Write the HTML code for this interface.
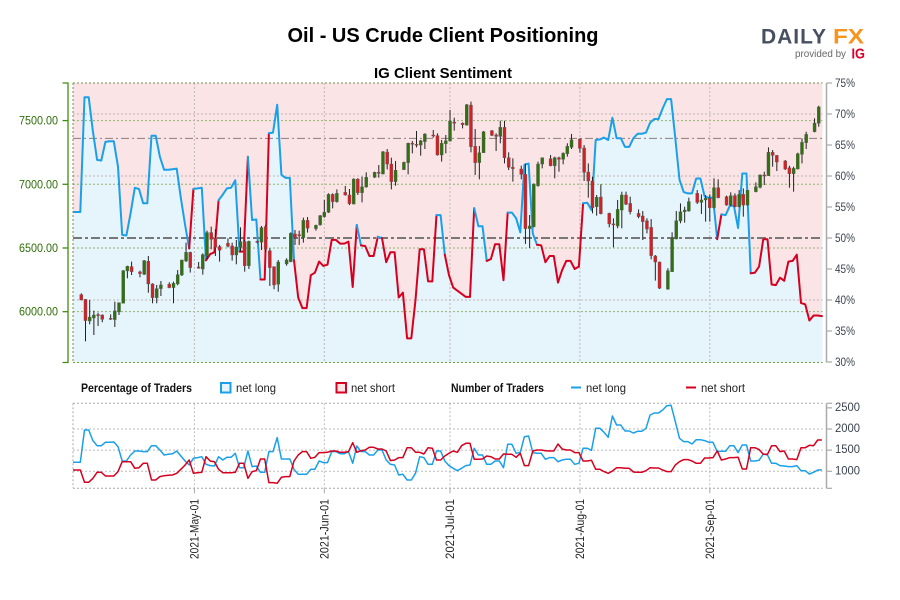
<!DOCTYPE html>
<html lang="en">
<head>
<meta charset="utf-8">
<title>Oil - US Crude Client Positioning</title>
<style>
html,body{margin:0;padding:0;background:#fff;width:900px;height:600px;overflow:hidden}
svg{display:block}
text{font-family:"Liberation Sans",sans-serif}
</style>
</head>
<body>
<svg id="chart" xmlns="http://www.w3.org/2000/svg" width="900" height="600" viewBox="0 0 900 600">
<text x="443" y="42" text-anchor="middle" font-size="20" font-weight="700" fill="#000" textLength="311" lengthAdjust="spacingAndGlyphs">Oil - US Crude Client Positioning</text>
<text x="443" y="78" text-anchor="middle" font-size="15" font-weight="700" fill="#000" textLength="138" lengthAdjust="spacingAndGlyphs">IG Client Sentiment</text>
<g>
<text x="761" y="43.5" font-size="21" font-weight="700" fill="#465060" textLength="65" lengthAdjust="spacing">DAILY</text>
<text x="833" y="43.5" font-size="21" font-weight="700" fill="#f7941d" textLength="31" lengthAdjust="spacingAndGlyphs">FX</text>
<text x="795" y="57" font-size="10.5" fill="#666" textLength="51" lengthAdjust="spacingAndGlyphs">provided by</text>
<text x="851.5" y="58.5" font-size="15" font-weight="700" fill="#d8002a" textLength="13.5" lengthAdjust="spacingAndGlyphs">IG</text>
</g>
<g id="main-panel"></g>
<g>
<text x="81" y="392" font-size="12" font-weight="700" fill="#111" textLength="111" lengthAdjust="spacingAndGlyphs">Percentage of Traders</text>
<rect x="221" y="383" width="9.5" height="9.5" fill="#e6f4fc" stroke="#1aa0e8" stroke-width="2"/>
<text x="236" y="392" font-size="12" fill="#222" textLength="40" lengthAdjust="spacingAndGlyphs">net long</text>
<rect x="336.5" y="383" width="9.5" height="9.5" fill="#fbe4e5" stroke="#d5001f" stroke-width="2"/>
<text x="351" y="392" font-size="12" fill="#222" textLength="44" lengthAdjust="spacingAndGlyphs">net short</text>
<text x="451" y="392" font-size="12" font-weight="700" fill="#111" textLength="93" lengthAdjust="spacingAndGlyphs">Number of Traders</text>
<line x1="571" y1="387.5" x2="581" y2="387.5" stroke="#1aa0e8" stroke-width="2"/>
<text x="586" y="392" font-size="12" fill="#222" textLength="40" lengthAdjust="spacingAndGlyphs">net long</text>
<line x1="686" y1="387.5" x2="696" y2="387.5" stroke="#d5001f" stroke-width="2"/>
<text x="701" y="392" font-size="12" fill="#222" textLength="44" lengthAdjust="spacingAndGlyphs">net short</text>
</g>
<g id="lower-panel"></g>
</svg>
<script>
const priceTicks = [7500, 7000, 6500, 6000];
const percentTicks = [75, 70, 65, 60, 55, 50, 45, 40, 35, 30];
const percentGrid = [70, 60, 40];
const countTicks = [2500, 2000, 1500, 1000];
const countGrid = [2000, 1500, 1000];
const dateTicks = ["2021-05-01", "2021-06-01", "2021-07-01", "2021-08-01", "2021-09-01"];
const dateLabels = ["2021-May-01", "2021-Jun-01", "2021-Jul-01", "2021-Aug-01", "2021-Sep-01"];
const firstCandleDate = "2021-04-04";
const currentPriceLevel = 7360;

const opens = [6134,6097,5927,5951,5977,5974,5948,5938,5998,6066,6320,6354,6312,6293,6396,6218,6110,6181,6215,6189,6218,6288,6398,6466,6351,6335,6440,6621,6576,6511,6537,6516,6445,6505,6550,6361,6552,6545,6668,6479,6354,6215,6375,6393,6610,6605,6581,6717,6652,6681,6746,6780,6921,6864,6937,6916,6845,7041,6934,6979,7055,7094,7081,7253,7159,7021,7115,7170,7322,7314,7308,7335,7387,7382,7230,7319,7340,7489,7479,7465,7622,7298,7170,7248,7421,7387,7376,7447,7209,7133,7120,7078,6652,6668,6989,7159,7201,7146,7209,7196,7240,7290,7356,7285,7096,7026,6824,6900,6772,6689,6673,6798,6916,6850,6772,6751,6714,6662,6437,6390,6176,6314,6571,6712,6785,6790,6929,6858,6877,6890,6816,6973,6903,6837,6911,6824,6921,6837,6942,6976,7073,7068,7251,7227,7183,7130,7083,7120,7235,7327,7413,7479];
const highs = [6144,6097,6092,6008,5992,5979,5979,6079,6071,6327,6361,6393,6322,6406,6437,6223,6210,6241,6231,6236,6327,6406,6542,6471,6390,6458,6636,6668,6647,6524,6576,6542,6563,6662,6563,6558,6558,6673,6681,6498,6354,6406,6419,6623,6641,6636,6738,6743,6683,6759,6877,6929,6929,6960,6987,6963,7047,7047,7060,7094,7099,7151,7261,7277,7209,7183,7178,7327,7340,7418,7348,7400,7426,7400,7348,7387,7583,7523,7486,7630,7649,7434,7301,7418,7426,7400,7499,7499,7251,7204,7146,7164,6759,7007,7178,7209,7230,7217,7217,7251,7322,7395,7361,7308,7164,7060,6916,7000,6777,6733,6877,6942,6942,6903,6803,6790,6733,6727,6445,6393,6341,6623,6790,6850,6824,6895,6955,6921,6916,6921,7047,7039,6911,6937,6929,6955,6968,6955,7015,7078,7099,7290,7269,7230,7191,7146,7138,7248,7361,7413,7518,7617];
const lows = [6089,5767,5901,5817,5888,5917,5935,5880,5974,6066,6262,6288,6270,6288,6149,6066,6066,6123,6184,6066,6207,6280,6390,6307,6338,6291,6411,6490,6437,6393,6505,6401,6372,6471,6314,6335,6537,6484,6470,6202,6176,6157,6361,6388,6524,6524,6542,6621,6636,6676,6738,6775,6811,6856,6911,6837,6843,6916,6858,6973,7049,7052,7078,7117,6960,6989,7112,7078,7243,7290,7225,7277,7366,7225,7178,7243,7335,7421,7439,7460,7251,7073,7039,7246,7379,7261,7322,7164,7112,7021,7039,6532,6500,6662,6981,7125,7141,7047,7099,7157,7217,7277,7248,7026,6895,6772,6754,6764,6662,6505,6655,6655,6837,6764,6733,6563,6615,6411,6244,6178,6173,6312,6568,6694,6699,6785,6845,6767,6707,6707,6811,6890,6832,6829,6819,6819,6746,6832,6937,6968,6994,7065,7138,7104,7112,6973,6942,7117,7164,7277,7408,7452];
const closes = [6092,5930,5958,5974,5969,5940,5940,6006,6071,6322,6356,6314,6299,6401,6218,6110,6181,6210,6189,6223,6291,6406,6466,6346,6341,6448,6621,6568,6505,6482,6513,6445,6508,6550,6361,6552,6547,6660,6492,6346,6210,6390,6406,6615,6579,6597,6717,6655,6678,6754,6780,6921,6864,6929,6916,6848,7041,6934,6981,7055,7094,7086,7256,7159,7021,7110,7172,7322,7319,7308,7342,7395,7379,7230,7322,7342,7497,7479,7468,7625,7295,7170,7248,7413,7384,7376,7447,7209,7133,7123,7078,6652,6673,7002,7159,7209,7146,7209,7196,7243,7298,7350,7282,7094,7026,6816,6898,6769,6689,6681,6803,6916,6843,6785,6746,6707,6649,6440,6390,6184,6322,6576,6714,6785,6798,6864,6858,6877,6890,6816,6973,6895,6837,6911,6824,6921,6837,6953,6981,7073,7068,7251,7227,7175,7120,7083,7125,7240,7329,7392,7481,7607];

const percentLong = [54.2,54.2,54.2,72.7,72.7,67.2,62.6,62.5,65.5,65.6,65.6,61.5,50.5,50.4,54.0,58.1,57.9,55.6,55.6,66.5,66.5,63.1,61.0,61.0,61.1,61.2,56.4,52.1,48.3,57.9,58.0,58.1,46.4,47.4,47.7,56.1,57.0,58.0,58.1,59.3,47.8,47.8,63.1,52.9,53.0,43.3,43.3,66.9,67.0,71.5,60.2,59.7,59.7,46.4,40.4,38.7,38.7,44.0,44.4,46.2,45.5,45.7,49.7,49.7,49.1,49.1,49.4,42.1,52.1,48.8,48.7,47.1,47.1,50.2,50.0,46.1,47.7,47.7,40.4,41.2,33.8,33.8,40.0,48.2,48.2,43.0,43.0,53.7,53.7,47.3,44.0,42.0,41.5,41.0,40.5,40.5,54.8,51.9,51.9,46.3,46.6,49.0,49.0,43.2,54.1,54.1,53.2,50.9,61.8,62.0,50.7,48.9,48.8,46.1,47.1,47.1,42.8,44.8,46.3,46.3,45.0,45.4,55.6,55.7,54.5,65.8,65.9,66.2,65.8,69.4,66.1,66.1,64.7,64.7,66.1,66.8,66.8,67.0,68.6,69.2,69.2,70.9,72.4,72.4,66.1,59.4,57.4,57.2,57.2,59.6,59.6,56.7,56.5,56.5,49.8,53.8,53.7,55.2,55.2,51.6,60.4,60.4,44.3,44.4,45.4,49.8,49.8,42.5,42.4,43.6,43.1,46.2,46.3,47.3,39.5,39.3,36.7,37.5,37.5,37.4];

const netLongCount = [1212,1212,1212,1977,1977,1725,1606,1606,1685,1685,1693,1583,1244,1244,1386,1480,1480,1465,1465,1606,1606,1504,1386,1402,1417,1480,1362,1244,1149,1307,1323,1346,1165,1134,1126,1346,1268,1331,1331,1425,1086,1086,1480,1110,1126,976,976,1465,1465,1796,1291,1291,1291,1047,929,929,929,1047,1047,1244,1205,1205,1465,1465,1417,1417,1465,1189,1599,1465,1465,1386,1386,1504,1504,1268,1165,1149,913,929,795,795,952,1346,1323,1165,1165,1480,1480,1244,1134,1071,1015,1071,1134,1149,1543,1386,1386,1165,1165,1244,1244,1086,1638,1638,1425,1449,1819,1835,1441,1425,1425,1283,1323,1323,1228,1268,1283,1283,1165,1189,1543,1543,1496,2016,2016,1922,1803,2308,2095,2095,1953,1953,1906,1945,1945,2016,2331,2379,2379,2450,2552,2560,2174,1780,1701,1701,1646,1748,1748,1725,1685,1685,1465,1473,1473,1606,1606,1441,1622,1622,1244,1244,1260,1409,1386,1189,1189,1134,1126,1110,1110,1134,1015,1015,937,976,1031,1031];
const netShortCount = [1031,1031,1031,740,740,834,976,976,889,889,889,992,1228,1228,1228,1071,1086,1189,1189,795,795,874,897,905,913,952,1047,1149,1268,952,968,976,1346,1244,1228,1047,968,968,968,976,1189,1189,834,992,1015,1291,1291,732,732,716,858,874,874,1244,1386,1465,1465,1307,1331,1441,1441,1449,1480,1480,1449,1449,1465,1677,1449,1488,1504,1567,1567,1528,1528,1480,1252,1268,1323,1323,1559,1559,1449,1449,1409,1559,1543,1268,1268,1362,1425,1480,1449,1606,1662,1662,1283,1283,1291,1362,1346,1291,1291,1409,1402,1402,1331,1425,1134,1134,1480,1504,1504,1488,1480,1480,1646,1528,1504,1504,1441,1441,1244,1244,1260,1047,1047,992,952,1008,1086,1086,1071,1071,984,976,976,1015,1086,1079,1079,1031,992,992,1149,1228,1276,1276,1244,1189,1189,1315,1315,1323,1480,1268,1291,1323,1323,1331,1055,1055,1559,1559,1512,1402,1402,1606,1606,1465,1480,1291,1291,1276,1559,1559,1614,1606,1740,1740];

const NS = 'http://www.w3.org/2000/svg';
const BLUE = '#1aa0e8', RED = '#d5001f';
const L = 73, R = 822.5, T = 83, B = 362.5, T2 = 403.3, B2 = 488.3;
const DAY_MS = 86400000;
const startMs = Date.parse(firstCandleDate + 'T00:00:00Z');
const xDay = d => 81.3 + 4.19 * d;
const yPrice = p => 120.6 + (7500 - p) / 7.85;
const yPct = v => 83 + (75 - v) * 6.2;
const yCount = n => 471.3 - (n - 1000) * 0.0423;

function make(parent, tag, attrs, txt) {
  const el = document.createElementNS(NS, tag);
  for (const k in attrs) el.setAttribute(k, attrs[k]);
  if (txt !== undefined) el.textContent = txt;
  parent.appendChild(el);
  return el;
}
const main = document.getElementById('main-panel');
const lower = document.getElementById('lower-panel');

/* backgrounds */
let el = make(main, 'rect', {x: L, y: T, width: R - L, height: yPct(50) - T, fill: '#fbe4e5'});


el = make(main, 'rect', {x: L, y: yPct(50), width: R - L, height: B - yPct(50), fill: '#e6f4fc'});



/* sentiment area fills */
const defs = make(main, 'defs', {});
const clipTop = make(defs, 'clipPath', {id: 'clip-above'});
make(clipTop, 'rect', {x: L, y: T, width: R - L, height: yPct(50) - T});
const clipBot = make(defs, 'clipPath', {id: 'clip-below'});
make(clipBot, 'rect', {x: L, y: yPct(50), width: R - L, height: B - yPct(50)});
const clipAll = make(defs, 'clipPath', {id: 'clip-plot'});
make(clipAll, 'rect', {x: L, y: T, width: R - L + 1, height: B - T});

const xLine = i => xDay(i - 2) - 1;
const linePts = percentLong.map((v, i) => xLine(i).toFixed(1) + ' ' + yPct(v).toFixed(1));
const areaD = 'M' + xLine(0).toFixed(1) + ' ' + yPct(50) + 'L' + linePts.join('L') + 'L' + xLine(percentLong.length - 1).toFixed(1) + ' ' + yPct(50) + 'Z';
el = make(main, 'path', {d: areaD, fill: '#e6f4fc', 'clip-path': 'url(#clip-above)'});


el = make(main, 'path', {d: areaD, fill: '#fbe4e5', 'clip-path': 'url(#clip-below)'});



/* grid */
function hLine(parent, y, color, dash, w, x1, x2) {
  return make(parent, 'line', {x1: x1 === undefined ? L : x1, x2: x2 === undefined ? R : x2, y1: y, y2: y, stroke: color, 'stroke-width': w, 'stroke-dasharray': dash});
}
percentGrid.forEach(v => {
  const g = hLine(main, yPct(v), '#bdb5b5', '2 2', 1);
  
  
});
priceTicks.forEach(p => {
  const g = hLine(main, yPrice(p), '#8fb56e', '2 2', 1);
  
  
});
dateTicks.forEach(s => {
  const d = (Date.parse(s + 'T00:00:00Z') - startMs) / DAY_MS;
  const x = xDay(d);
  const g1 = make(main, 'line', {x1: x, x2: x, y1: T, y2: B, stroke: '#c0b8b8', 'stroke-width': 1, 'stroke-dasharray': '2 2'});
  
  
  const g2 = make(lower, 'line', {x1: x, x2: x, y1: T2, y2: B2, stroke: '#bbb', 'stroke-width': 1, 'stroke-dasharray': '2 2'});
  
  
});
el = hLine(main, yPrice(currentPriceLevel), '#8c7c7c', '8 3 2 3', 1);


el = hLine(main, yPct(50), '#777', '9 3 3 3', 2);


el = hLine(main, T, '#6f8f50', '2 2', 1, L, R);


el = hLine(main, B, '#6fa040', '2 2', 1, L, R);


el = make(main, 'line', {x1: L, x2: L, y1: T, y2: B, stroke: '#6f8f50', 'stroke-width': 1, 'stroke-dasharray': '2 2'});



/* sentiment line: each segment coloured by where it starts */
const lineGroup = make(main, 'g', {'clip-path': 'url(#clip-plot)', fill: 'none', 'stroke-width': 2, 'stroke-linecap': 'round', 'stroke-linejoin': 'round'});


function drawSentimentRun(from, to, color) {
  const pts = [];
  for (let j = from; j <= to; j++) pts.push(linePts[j]);
  make(lineGroup, 'path', {d: 'M' + pts.join('L'), stroke: color});
}
let runStart = 0;
for (let i = 1; i < percentLong.length - 1; i++) {
  if ((percentLong[i] > 50) !== (percentLong[runStart] > 50)) {
    drawSentimentRun(runStart, i, percentLong[runStart] > 50 ? BLUE : RED);
    runStart = i;
  }
}
drawSentimentRun(runStart, percentLong.length - 1, percentLong[runStart] > 50 ? BLUE : RED);

/* candlesticks: Sunday to Friday sessions, Saturdays skipped */
const candleGroup = make(main, 'g', {});


let candleDay = 0;
opens.forEach((o, i) => {
  const dow = new Date(startMs + candleDay * DAY_MS).getUTCDay();
  if (dow === 6) candleDay++;
  const x = xDay(candleDay);
  const c = closes[i];
  const up = c >= o;
  const g = make(candleGroup, 'g', {});
  
  
  make(g, 'line', {x1: x, x2: x, y1: yPrice(highs[i]), y2: yPrice(lows[i]), stroke: '#222', 'stroke-width': 1});
  const top = yPrice(Math.max(o, c));
  const h = Math.max(1, yPrice(Math.min(o, c)) - top);
  make(g, 'rect', {x: x - 1.5, y: top, width: 3, height: h, fill: up ? '#2f7010' : '#d32027', stroke: '#5a5a5a', 'stroke-width': 0.4});
  candleDay++;
});

/* left price axis */
const leftAxis = make(main, 'g', {});


make(leftAxis, 'path', {d: 'M62.5 ' + T + 'H68V' + B + 'H62.5', fill: 'none', stroke: '#3f8f0f', 'stroke-width': 1.3});
priceTicks.forEach(p => {
  make(leftAxis, 'line', {x1: 62.5, x2: 68, y1: yPrice(p), y2: yPrice(p), stroke: '#3f8f0f', 'stroke-width': 1.3});
  const t = make(leftAxis, 'text', {x: 58, y: yPrice(p) + 4, 'text-anchor': 'end', 'font-size': 12, fill: '#2f6e08', textLength: 39, lengthAdjust: 'spacingAndGlyphs'}, p.toFixed(2));
  
  
});

/* right percent axis */
const rightAxis = make(main, 'g', {});


make(rightAxis, 'line', {x1: 826.5, x2: 826.5, y1: T, y2: B, stroke: '#aaa', 'stroke-width': 1.5});
percentTicks.forEach(v => {
  make(rightAxis, 'line', {x1: 826.5, x2: 832, y1: yPct(v), y2: yPct(v), stroke: '#aaa', 'stroke-width': 1.2});
  const t = make(rightAxis, 'text', {x: 835, y: yPct(v) + 4, 'font-size': 12, fill: '#3c4450', textLength: 20, lengthAdjust: 'spacingAndGlyphs'}, v + '%');
  
  
});

/* lower panel */
countGrid.forEach(n => {
  const g = hLine(lower, yCount(n), '#bbb', '2 2', 1);
  
  
});
el = hLine(lower, T2, '#aaa', '2 2', 1);


el = hLine(lower, B2, '#aaa', '2 2', 1);


el = make(lower, 'line', {x1: L, x2: L, y1: T2, y2: B2, stroke: '#aaa', 'stroke-width': 1, 'stroke-dasharray': '2 2'});



function countPath(arr) {
  return 'M' + arr.map((n, i) => Math.max(L, xLine(i)).toFixed(1) + ' ' + yCount(n).toFixed(1)).join('L');
}
el = make(lower, 'path', {d: countPath(netLongCount), fill: 'none', stroke: BLUE, 'stroke-width': 1.5, 'stroke-linejoin': 'round'});


el = make(lower, 'path', {d: countPath(netShortCount), fill: 'none', stroke: RED, 'stroke-width': 1.5, 'stroke-linejoin': 'round'});



const countAxis = make(lower, 'g', {});


make(countAxis, 'line', {x1: 826.5, x2: 826.5, y1: T2, y2: B2, stroke: '#aaa', 'stroke-width': 1.5});
make(countAxis, 'line', {x1: 826.5, x2: 832, y1: T2, y2: T2, stroke: '#aaa', 'stroke-width': 1.2});
make(countAxis, 'line', {x1: 826.5, x2: 832, y1: B2, y2: B2, stroke: '#aaa', 'stroke-width': 1.2});
countTicks.forEach(n => {
  make(countAxis, 'line', {x1: 826.5, x2: 832, y1: yCount(n), y2: yCount(n), stroke: '#aaa', 'stroke-width': 1.2});
  const t = make(countAxis, 'text', {x: 835, y: yCount(n) + 3, 'font-size': 12, fill: '#3c4450', textLength: 25, lengthAdjust: 'spacingAndGlyphs'}, String(n));
  
  
});

/* date axis */
dateTicks.forEach((s, i) => {
  const d = (Date.parse(s + 'T00:00:00Z') - startMs) / DAY_MS;
  const x = xDay(d);
  make(lower, 'line', {x1: x, x2: x, y1: B2, y2: B2 + 5, stroke: '#aaa', 'stroke-width': 1});
  const t = make(lower, 'text', {x: x + 4, y: 499, 'text-anchor': 'end', 'font-size': 12, fill: '#222', transform: 'rotate(-90 ' + (x + 4) + ' 499)', textLength: 60, lengthAdjust: 'spacingAndGlyphs'}, dateLabels[i]);
  
  
});
</script>
</body>
</html>
